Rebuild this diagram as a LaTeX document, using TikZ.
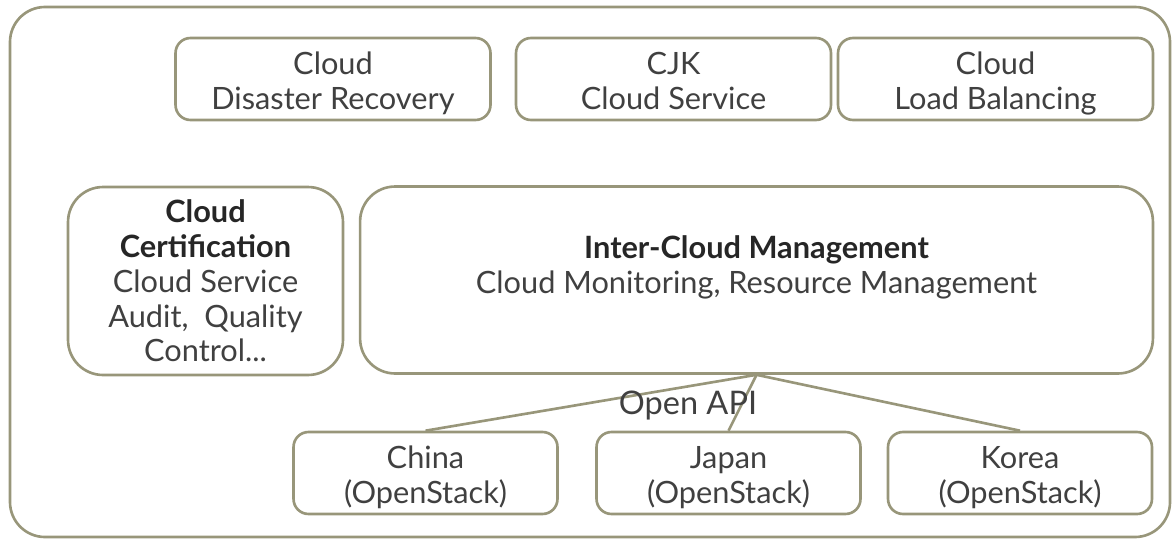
\documentclass[tikz,border=0pt]{standalone}
\usepackage{fontspec}
\setmainfont{Lato}
\usetikzlibrary{positioning}
\definecolor{boxline}{RGB}{152,150,122}
\definecolor{boxtext}{RGB}{64,64,64}
\definecolor{boldtext}{RGB}{38,38,38}
\newcommand{\topgap}{\rule{0pt}{18pt}}

\begin{document}
\begin{tikzpicture}[x=0.02cm,y=-0.02cm]
    \tikzstyle{smallbox}=[draw=boxline,line width=1.5pt,rounded corners=0.3cm,text=boxtext,align=center,font=\fontsize{17.5}{19.8}\selectfont,inner sep=0pt]
    \tikzstyle{bigbox}=[smallbox,rounded corners=0.7cm]
    \tikzstyle{site}=[smallbox,minimum width=5.28cm,minimum height=1.64cm]
    \tikzstyle{service}=[smallbox,minimum width=6.3cm,minimum height=1.64cm]
    \useasboundingbox (0,0) rectangle (1175,541);
    \draw[boxline,line width=1.5pt,rounded corners=0.7cm] (10,7) rectangle (1170,537);
    % top row
    \node (recovery)[service] at (333,79) {\topgap Cloud\\Disaster Recovery};
    \node (cjk)[service] at (673.5,79) {\topgap CJK\\Cloud Service\vphantom{y}};
    \node (balancing)[service] at (995.5,79) {\topgap Cloud\\Load Balancing};
    % middle row
    \node (cert)[bigbox,minimum width=5.5cm,minimum height=3.76cm] at (205.5,281)
        {{\color{boldtext}\bfseries Cloud}\\{\color{boldtext}\bfseries Certification}\\Cloud Service\\Audit,~ Quality\\Control...};
    \node (icm)[bigbox,minimum width=15.86cm,minimum height=3.74cm] at (756.5,280) {};
    \node (icmtext)[text=boxtext,align=center,font=\fontsize{17.5}{19.8}\selectfont] at (756.5,267)
        {{\color{boldtext}\bfseries Inter-Cloud Management}\\Cloud Monitoring, Resource Management};
    % bottom row
    \node (china)[site] at (425.5,473) {\topgap China\\(OpenStack)};
    \node (japan)[site] at (728.5,473) {\topgap Japan\\(OpenStack)};
    \node (korea)[site] at (1020,473) {\topgap Korea\\(OpenStack)};
    \draw[boxline,line width=1.5pt] (icm.south) -- (china.north);
    \draw[boxline,line width=1.5pt] (icm.south) -- (japan.north);
    \draw[boxline,line width=1.5pt] (icm.south) -- (korea.north);
    \node (api)[text=boxtext,font=\fontsize{18.5}{20}\selectfont] at (688,406) {Open API};
\end{tikzpicture}
\end{document}
